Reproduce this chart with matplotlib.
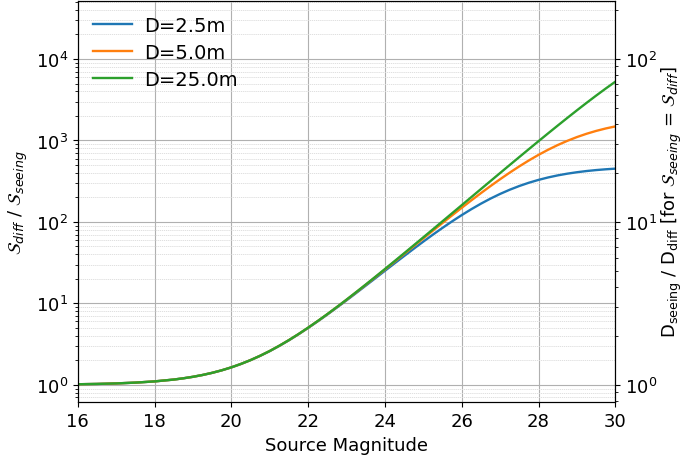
import numpy as np
import matplotlib
matplotlib.use("Agg")
import matplotlib.pyplot as plt

# Source magnitudes at which the curves were read
magnitudes = [16.0, 16.5, 17.0, 17.5, 18.0,
              18.5, 18.75, 19.0, 19.25, 19.5, 19.75, 20.0, 20.25, 20.5, 20.75,
              21.0, 21.25, 21.5, 21.75, 22.0, 22.25, 22.5, 22.75, 23.0, 23.25,
              23.5, 23.75, 24.0, 24.25, 24.5, 24.75, 25.0, 25.25, 25.5, 25.75,
              26.0, 26.25, 26.5, 26.75, 27.0, 27.25, 27.5, 27.75, 28.0, 28.25,
              28.5, 28.75, 29.0, 29.25, 29.5, 29.75, 30.0]

ratio_d2p5 = [1.016, 1.025, 1.040, 1.064, 1.101,
              1.160, 1.202, 1.254, 1.320, 1.402, 1.506, 1.636, 1.802, 2.007, 2.267,
              2.59, 3.005, 3.52, 4.17, 4.99, 6.01, 7.28, 8.89, 10.88, 13.38,
              16.49, 20.33, 25.1, 30.95, 38.1, 46.8, 57.3, 69.8, 84.5, 101.6,
              121.2, 143.2, 167.4, 193.4, 220.6, 248.4, 276.0, 302.8, 328.1, 351.5,
              372.6, 391.2, 407.4, 421.3, 433.0, 442.7, 450.8]

ratio_d5 = [1.016, 1.025, 1.040, 1.064, 1.101,
            1.160, 1.202, 1.254, 1.320, 1.403, 1.507, 1.638, 1.803, 2.010, 2.271,
            2.60, 3.015, 3.54, 4.19, 5.02, 6.06, 7.36, 9.00, 11.05, 13.65,
            16.89, 20.96, 26.06, 32.45, 40.4, 50.4, 62.7, 78.1, 97.0, 120.4,
            149.0, 183.7, 225.6, 275.5, 334.3, 402.7, 481.0, 568.9, 665.6, 769.4,
            878.3, 989.6, 1100.5, 1208.0, 1309.7, 1403.5, 1488.1]

ratio_d25 = [1.016, 1.025, 1.040, 1.064, 1.101,
             1.160, 1.202, 1.254, 1.320, 1.403, 1.507, 1.638, 1.804, 2.011, 2.273,
             2.60, 3.018, 3.54, 4.20, 5.03, 6.07, 7.38, 9.03, 11.11, 13.73,
             17.02, 21.17, 26.38, 32.96, 41.2, 51.6, 64.7, 81.1, 101.8, 127.8,
             160.4, 201.4, 253.0, 317.5, 398.4, 499.6, 625.9, 783.5, 979.6, 1222.6,
             1522.6, 1891.7, 2343.5, 2891.7, 3552.0, 4338.6, 5265.0]

series_labels = ["D=2.5m", "D=5.0m", "D=25.0m"]
x_ticks = [16, 18, 20, 22, 24, 26, 28, 30]

W, H = 683, 460
fig = plt.figure(figsize=(W / 100, H / 100), dpi=100)
ax = fig.add_axes([77.7 / W, (H - 403.3) / H, (615.3 - 77.7) / W, (403.3 - 1.7) / H])

for vals, lab in zip([ratio_d2p5, ratio_d5, ratio_d25], series_labels):
    ax.plot(magnitudes, vals, lw=1.7, label=lab)

ax.set_yscale("log")
ylo, yhi = 0.61, 5.2e4
ax.set_xlim(16, 30)
ax.set_ylim(ylo, yhi)
ax.set_xticks(x_ticks)
ax.grid(True, which="major", color="#b0b0b0", lw=0.8)
ax.grid(True, which="minor", axis="y", color="#dadada", lw=0.6, ls=(0, (1.5, 1.0)))
ax.tick_params(labelsize=13)
ax.set_xlabel("Source Magnitude", fontsize=13)
ax.set_ylabel(r"$\mathcal{S}_{diff}$ / $\mathcal{S}_{seeing}$", fontsize=13)

ax2 = ax.twinx()
ax2.set_yscale("log")
ax2.set_ylim(np.sqrt(ylo), np.sqrt(yhi))
ax2.tick_params(labelsize=13)
ax2.set_ylabel(r"D$_{\rm seeing}$ / D$_{\rm diff}$ [for $\mathcal{S}_{seeing}$ = $\mathcal{S}_{diff}$]",
               fontsize=13, labelpad=2)

ax.legend(loc="upper left", frameon=False, fontsize=14, handlelength=2.0,
          handletextpad=0.6, labelspacing=0.4, borderaxespad=0.4, borderpad=0.4)

fig.savefig("out.png", dpi=100)
